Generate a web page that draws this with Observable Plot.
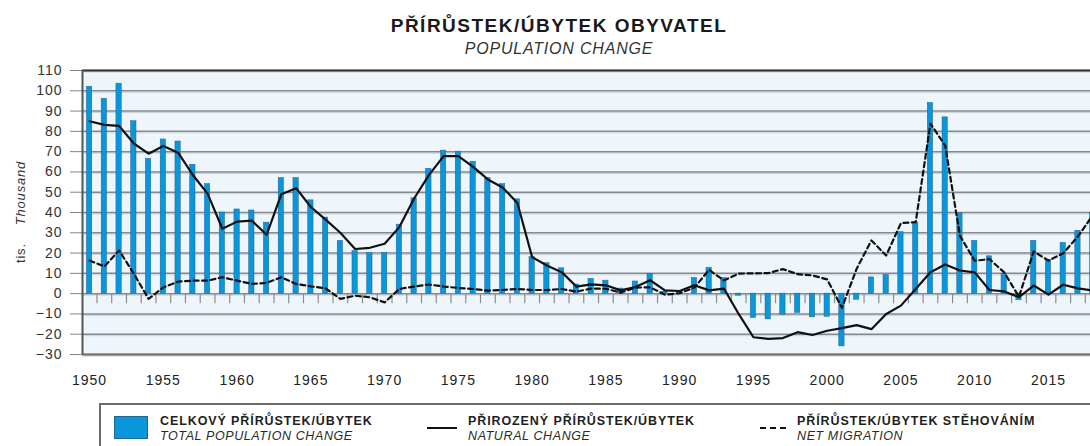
<!DOCTYPE html>
<html>
<head>
<meta charset="utf-8">
<script src="https://cdn.jsdelivr.net/npm/d3@7"></script>
<script src="https://cdn.jsdelivr.net/npm/@observablehq/plot@0.6"></script>
<style>
  html, body { margin: 0; padding: 0; background: #fff; overflow: hidden; }
  body { width: 1090px; height: 446px; position: relative; font-family: "Liberation Sans", Arial, sans-serif; color: #222; }
  .abs { position: absolute; white-space: nowrap; }
  #title { left: 559px; top: 16px; transform: translateX(-50%); font-size: 19px; line-height: 19px; font-weight: bold; letter-spacing: 1.5px; color: #1a1a1a; }
  #subtitle { left: 559px; top: 41px; transform: translateX(-50%); font-size: 16px; line-height: 16px; font-style: italic; letter-spacing: 0.8px; color: #333; }
  #chart { left: 0; top: 60px; }
  #legend { left: 99px; top: 403px; width: 1010px; height: 60px; border: 2px solid #6b6b6b; box-sizing: border-box; }
  .lt1 { font-size: 12.5px; line-height: 12.5px; font-weight: bold; letter-spacing: 0.9px; color: #1e1e1e; }
  .lt2 { font-size: 12.5px; line-height: 12.5px; font-style: italic; letter-spacing: 0.6px; color: #2a2a2a; }
</style>
</head>
<body>
<div id="title" class="abs">PŘÍRŮSTEK/ÚBYTEK OBYVATEL</div>
<div id="subtitle" class="abs">POPULATION CHANGE</div>
<div id="chart" class="abs"></div>
<div id="legend" class="abs"></div>
<script>
// ---- data (thousands) ----
const years = d3.range(1950, 2019);
const totalChange = [
  102, 96, 103.5, 85, 66.5, 76, 75, 63.5, 54, 40,
  41.5, 41, 35, 57, 57, 46, 37.5, 26, 21, 20,
  20, 34, 47, 61.5, 70.5, 70, 65, 57, 54, 46.5,
  18, 15, 12.5, 4.5, 7.3, 6.4, 2.5, 6, 9.7, 1,
  0.8, 7.7, 12.7, 7.7, -1, -12, -12.7, -10.4, -9.5, -11.7,
  -11.4, -26, -3, 8, 9.2, 30.3, 35, 94, 86.9, 39.5,
  26, 18.4, 9.8, -3.3, 26, 16.7, 25, 31, 39.7
];
const naturalChange = [
  85, 83.2, 82.7, 74, 69, 72.8, 69.5, 58.5, 49.3, 32,
  35.5, 36, 29, 49, 52, 42.7, 36.5, 30, 22, 22.6,
  24.6, 32.8, 46.9, 58.4, 67.8, 67.8, 62.5, 56.3, 52.3, 44.7,
  18, 13.9, 10.6, 3.5, 4.6, 4.1, 1.6, 3.3, 6.6, 1.6,
  1.3, 4.1, 1.6, 2.5, -10, -21.5, -22.3, -21.9, -19, -20.4,
  -18.3, -17, -15.5, -17.5, -10, -5.9, 2.3, 10.5, 14.4, 11.4,
  10.5, 1.8, 1.1, -1.7, 4, -0.5, 4.4, 2.6, 1.5
];
const netMigration = [
  16.3, 13.4, 21.3, 9.8, -2.6, 3.1, 5.9, 6.4, 6.4, 8.1,
  6.4, 4.8, 5.3, 8.1, 4.8, 3.6, 2.6, -2.6, -1, -1.8,
  -4.3, 2.3, 3.5, 4.5, 3.5, 2.8, 2.3, 1.5, 1.8, 2.3,
  1.8, 1.8, 2.3, 1, 2.5, 2.4, 0.5, 3, 3.1, -0.5,
  0.2, 3, 11.7, 6.5, 9.9, 10, 10.1, 12.1, 9.6, 9,
  7, -7, 12.3, 26.2, 18.8, 34.8, 35.2, 83.8, 73, 28.5,
  16.2, 17, 10.5, -1.5, 20.8, 16.3, 19.9, 28.2, 38.6
];
const yTicks = d3.range(-30, 111, 10);
const xLabels = d3.range(1950, 2016, 5);
const xDomain = [1949.52, 2017.85];

const rows = years.map((year, i) => ({year, total: totalChange[i], natural: naturalChange[i], migration: netMigration[i]}));
const boundaries = years.map(y => y + 0.5);

const barFill = "#0a96db";
const barStroke = "#22638f";

const svg = Plot.plot({
  width: 1090,
  height: 336,
  marginLeft: 82,
  marginRight: 0,
  marginTop: 10,
  marginBottom: 42,
  x: {domain: xDomain},
  y: {domain: [-30, 110]},
  style: {fontFamily: "'Liberation Sans', Arial, sans-serif", background: "transparent", color: "#222", overflow: "hidden"},
  marks: [
    Plot.frame({fill: "#eef6fc", stroke: null}),
    Plot.ruleY(yTicks, {stroke: "#cdd3d9", strokeWidth: 1, dy: 1.5}),
    Plot.ruleY(yTicks, {stroke: "#85898d", strokeWidth: 1.5}),
    Plot.ruleY([-30], {stroke: "#6f6f6f", strokeWidth: 2}),
    Plot.ruleX(boundaries, {x: d => d, y1: 0, y2: -5, stroke: "#8a8d90", strokeWidth: 1.2, clip: true}),
    Plot.rectY(rows, {x1: d => d.year - 0.18, x2: d => d.year + 0.18, y1: 0, y2: "total", fill: barFill, stroke: barStroke, strokeWidth: 0.5, clip: true}),
    Plot.line(rows, {x: "year", y: "natural", stroke: "#111", strokeWidth: 2.2, clip: true}),
    Plot.line(rows, {x: "year", y: "migration", stroke: "#111", strokeWidth: 2.2, strokeDasharray: "5,3.5", clip: true}),
    Plot.ruleY([110], {stroke: "#333", strokeWidth: 2}),
    Plot.ruleX([xDomain[0]], {stroke: "#555", strokeWidth: 2}),
    Plot.axisY({ticks: yTicks, tickSize: 12, tickPadding: 8, fontSize: 14, label: null, color: "#333", strokeOpacity: 0.6}),
    Plot.axisX({ticks: xLabels, tickSize: 0, tickPadding: 21, fontSize: 14, label: null, tickFormat: d => String(d), color: "#222"})
  ]
});
d3.select(svg).selectAll("g[aria-label='y-axis tick label'] text, g[aria-label='x-axis tick label'] text").style("letter-spacing", "1px");
document.getElementById("chart").appendChild(svg);

// rotated y-axis label
const yl = d3.select(svg).append("text")
  .attr("transform", "translate(25,203) rotate(-90)")
  .attr("text-anchor", "start")
  .attr("font-size", 13)
  .attr("fill", "#333")
  .attr("letter-spacing", "0.8px");
yl.append("tspan").text("tis.");
yl.append("tspan").attr("dx", 18).attr("font-style", "italic").text("Thousand");

// legend
const items = [
  {left: 160, t1: "CELKOVÝ PŘÍRŮSTEK/ÚBYTEK", t2: "TOTAL POPULATION CHANGE"},
  {left: 468, t1: "PŘIROZENÝ PŘÍRŮSTEK/ÚBYTEK", t2: "NATURAL CHANGE"},
  {left: 797, t1: "PŘÍRŮSTEK/ÚBYTEK STĚHOVÁNÍM", t2: "NET MIGRATION"}
];
d3.select("body").append("div").attr("class", "abs")
  .style("left", "114px").style("top", "416px").style("width", "34px").style("height", "23px")
  .style("background", barFill).style("border", "1px solid " + barStroke).style("box-sizing", "border-box");
d3.select("body").append("div").attr("class", "abs")
  .style("left", "427px").style("top", "427px").style("width", "30px").style("height", "0px")
  .style("border-top", "2.5px solid #111");
d3.select("body").append("div").attr("class", "abs")
  .style("left", "760px").style("top", "427px").style("width", "26px").style("height", "0px")
  .style("border-top", "2.5px dashed #111");
items.forEach(it => {
  d3.select("body").append("div").attr("class", "abs lt1").style("left", it.left + "px").style("top", "415px").text(it.t1);
  d3.select("body").append("div").attr("class", "abs lt2").style("left", it.left + "px").style("top", "430px").text(it.t2);
});
</script>
</body>
</html>
